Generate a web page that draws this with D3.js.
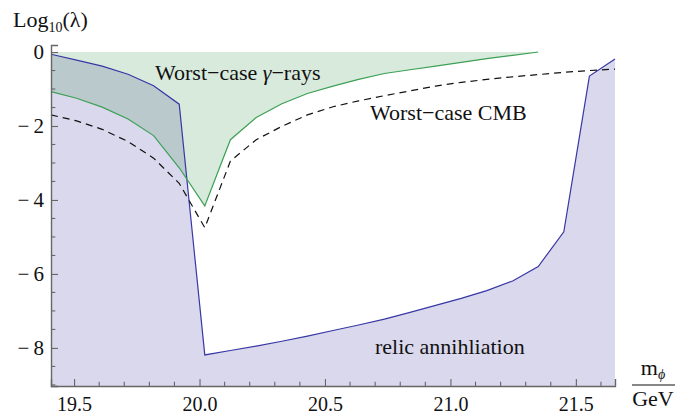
<!DOCTYPE html>
<html>
<head>
<meta charset="utf-8">
<script src="https://cdn.jsdelivr.net/npm/d3@7"></script>
<style>
  html, body { margin: 0; padding: 0; background: #fff; }
  svg { display: block; }
  svg text { font-family: "Liberation Serif", "Tinos", "DejaVu Serif", "Times New Roman", serif; fill: #111; }
</style>
</head>
<body>
<svg id="chart" width="676" height="414"></svg>
<script>
// Scalar mass grid (GeV)
const mass = [19.408, 19.51, 19.612, 19.715, 19.817, 19.919, 20.021, 20.123, 20.226, 20.328,
              20.43, 20.532, 20.634, 20.737, 20.839, 20.941, 21.043, 21.145, 21.248, 21.35,
              21.452, 21.554, 21.656];

// log10(lambda) from relic annihilation
const relic = [-0.06, -0.22, -0.38, -0.60, -0.91, -1.41, -8.19, -8.07, -7.95, -7.82,
               -7.68, -7.53, -7.38, -7.22, -7.04, -6.85, -6.66, -6.45, -6.19, -5.80,
               -4.86, -0.65, -0.19];

// worst-case gamma-ray bound (defined up to 21.35 GeV)
const gamma = [-1.07, -1.25, -1.49, -1.81, -2.26, -3.13, -4.16, -2.37, -1.77, -1.40,
               -1.12, -0.92, -0.74, -0.58, -0.48, -0.38, -0.28, -0.18, -0.09, 0.0];

// worst-case CMB bound
const cmb = [-1.70, -1.86, -2.09, -2.42, -2.87, -3.55, -4.75, -2.95, -2.37, -2.01,
             -1.70, -1.48, -1.32, -1.18, -1.05, -0.92, -0.82, -0.74, -0.67, -0.61,
             -0.55, -0.50, -0.46];

const xTicks = [19.5, 20.0, 20.5, 21.0, 21.5];
const xTickLabels = ["19.5", "20.0", "20.5", "21.0", "21.5"];
const yTicks = [0, -2, -4, -6, -8];

const serif = "'Liberation Serif', 'Tinos', 'DejaVu Serif', 'Times New Roman', serif";
const svg = d3.select("#chart");

const x = d3.scaleLinear().domain([19.408, 21.656]).range([51, 615]);
const y = d3.scaleLinear().domain([-9.03, 0.19]).range([386, 45]);

const relicPts = mass.map((m, i) => [m, relic[i]]);
const gammaPts = gamma.map((v, i) => [mass[i], v]);
const cmbPts = mass.map((m, i) => [m, cmb[i]]);

// Filled regions
const relicArea = d3.area().x(d => x(d[0])).y0(y(-9.03)).y1(d => y(d[1]));
const gammaArea = d3.area().x(d => x(d[0])).y0(y(0)).y1(d => y(d[1]));
const line = d3.line().x(d => x(d[0])).y(d => y(d[1]));

svg.append("path").datum(relicPts).attr("d", relicArea)
  .attr("fill", "rgb(70,60,160)").attr("fill-opacity", 0.2);
svg.append("path").datum(gammaPts).attr("d", gammaArea)
  .attr("fill", "rgb(60,150,80)").attr("fill-opacity", 0.2);

// Boundary curves
svg.append("path").datum(relicPts).attr("d", line)
  .attr("fill", "none").attr("stroke", "rgb(55,55,165)").attr("stroke-width", 1.2);
svg.append("path").datum(gammaPts).attr("d", line)
  .attr("fill", "none").attr("stroke", "rgb(60,160,85)").attr("stroke-width", 1.2);
svg.append("path").datum(cmbPts).attr("d", line)
  .attr("fill", "none").attr("stroke", "#111").attr("stroke-width", 1.2)
  .attr("stroke-dasharray", "7,5");

// Axes: ticks point into the plot
const axisColor = "#666";
const xMinor = d3.range(19.5, 21.65, 0.1).map(v => +v.toFixed(1));
const xAxis = d3.axisBottom(x).tickValues(xTicks).tickSize(-7)
  .tickFormat((d, i) => xTickLabels[i]).tickPadding(11);
const xg = svg.append("g").attr("transform", `translate(0,${y(-9.03)})`).call(xAxis)
  .attr("font-family", serif);
xg.select(".domain").attr("stroke", axisColor).attr("stroke-width", 1.4);
xg.selectAll(".tick line").attr("stroke", axisColor).attr("stroke-width", 1.1);
xg.selectAll(".tick text").attr("font-size", 20).style("font-family", serif).attr("fill", "#111");
xg.selectAll(".minor").data(xMinor.filter(v => !xTicks.some(t => Math.abs(t - v) < 1e-6)))
  .enter().append("line").attr("class", "minor")
  .attr("x1", d => x(d)).attr("x2", d => x(d)).attr("y1", 0).attr("y2", -4.3)
  .attr("stroke", axisColor).attr("stroke-width", 1.1);

const yMinor = d3.range(-9, 0.01, 0.5).map(v => +v.toFixed(1));
const yAxis = d3.axisLeft(y).tickValues(yTicks).tickSize(-7)
  .tickFormat(d => d < 0 ? "\u2212\u2009" + Math.abs(d) : String(d)).tickPadding(7);
const yg = svg.append("g").attr("transform", `translate(${x(19.408)},0)`).call(yAxis)
  .attr("font-family", serif);
yg.select(".domain").attr("stroke", axisColor).attr("stroke-width", 1.4);
yg.selectAll(".tick line").attr("stroke", axisColor).attr("stroke-width", 1.1);
yg.selectAll(".tick text").attr("font-size", 21).style("font-family", serif).attr("fill", "#111");
yg.selectAll(".minor").data(yMinor.filter(v => !yTicks.includes(v)))
  .enter().append("line").attr("class", "minor")
  .attr("x1", 0).attr("x2", 4.3).attr("y1", d => y(d)).attr("y2", d => y(d))
  .attr("stroke", axisColor).attr("stroke-width", 1.1);

// Axis labels
const yl = svg.append("text").attr("x", 13).attr("y", 27).attr("font-size", 22).style("font-family", serif);
yl.append("tspan").text("Log");
yl.append("tspan").attr("font-size", 14).attr("dy", 5).text("10");
yl.append("tspan").attr("dy", -5).text("(λ)");

const xl = svg.append("g");
const mt = xl.append("text").attr("x", 653).attr("y", 375).attr("font-size", 22)
  .attr("text-anchor", "middle").style("font-family", serif);
mt.append("tspan").text("m");
mt.append("tspan").attr("font-size", 14).attr("font-style", "italic").attr("dy", 4).text("ϕ");
xl.append("line").attr("x1", 632).attr("x2", 675).attr("y1", 385).attr("y2", 385)
  .attr("stroke", "#111").attr("stroke-width", 1.1);
xl.append("text").attr("x", 653).attr("y", 406).attr("font-size", 22)
  .attr("text-anchor", "middle").style("font-family", serif).text("GeV");

// Curve annotations
const g1 = svg.append("text").attr("x", 155).attr("y", 80).attr("font-size", 22).style("font-family", serif);
g1.append("tspan").text("Worst\u2212case ");
g1.append("tspan").attr("font-style", "italic").text("γ");
g1.append("tspan").text("\u2212rays");
svg.append("text").attr("x", 370).attr("y", 120).attr("font-size", 22).style("font-family", serif)
  .text("Worst\u2212case CMB");
svg.append("text").attr("x", 375).attr("y", 354).attr("font-size", 22).style("font-family", serif)
  .text("relic annihliation");
</script>
</body>
</html>
